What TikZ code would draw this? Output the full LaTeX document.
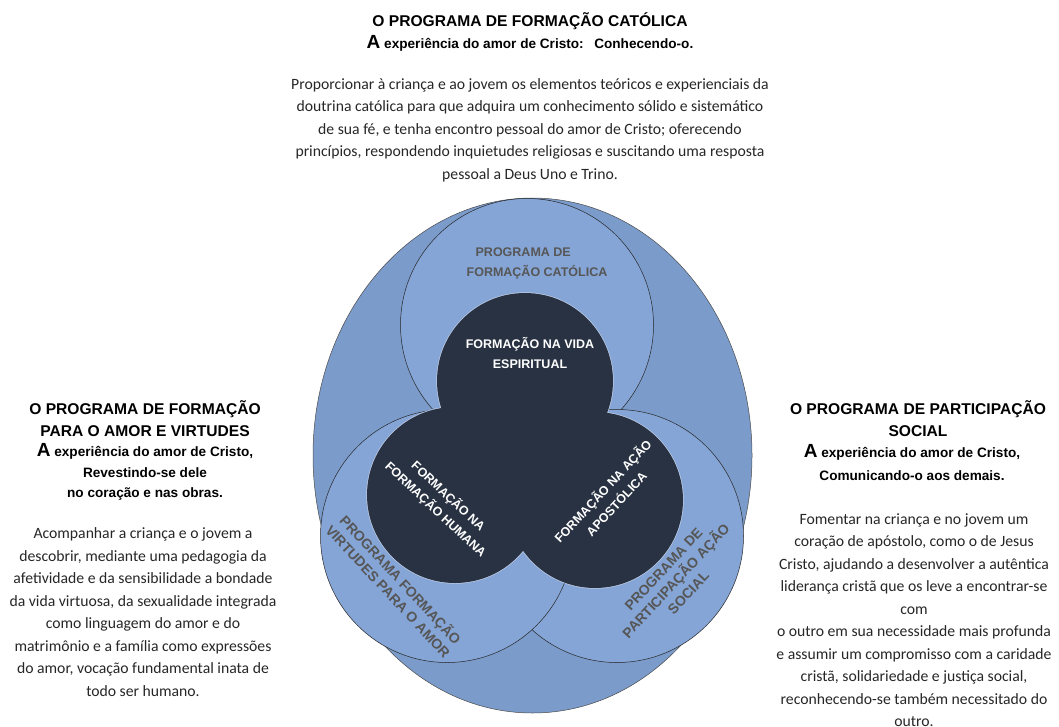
\documentclass[tikz,border=0pt]{standalone}
\usepackage{fontspec}
\setmainfont{Carlito}
\newfontfamily\headfont{Liberation Sans}
\usetikzlibrary{shapes.geometric}

\definecolor{ovalBlue}{HTML}{7B9BCB}
\definecolor{ringBlue}{HTML}{85A5D6}
\definecolor{coreInk}{HTML}{283242}
\definecolor{coreEdge}{HTML}{BFCDE6}
\definecolor{labelGray}{HTML}{565656}
\definecolor{bodyInk}{HTML}{262626}

% big initial of the mottos
\newcommand{\bigA}{{\fontsize{19}{19}\selectfont A}}

\tikzset{
    every node/.style={inner sep=0pt},
    heading/.style={font=\headfont\bfseries\fontsize{15.6}{22}\selectfont, align=center, text=black},
    motto/.style={font=\headfont\bfseries\fontsize{13.6}{20.5}\selectfont, align=center, text=black},
    body/.style={font=\fontsize{15.7}{22.5}\selectfont, align=center, text=bodyInk},
    oval/.style={ellipse, draw=black!70, line width=0.5pt, fill=ovalBlue, minimum width=439pt, minimum height=515pt},
    ring/.style={circle, draw=black!85, line width=0.5pt, fill=ringBlue, minimum size=253pt},
    coreedge/.style={circle, draw=coreEdge, line width=1.4pt, minimum size=176pt},
    core/.style={circle, fill=coreInk, minimum size=176pt},
    ringlabel/.style={font=\headfont\bfseries\fontsize{14}{17}\selectfont, align=center, text=labelGray},
    corelabel/.style={font=\headfont\bfseries\fontsize{12.5}{18.5}\selectfont, align=center, text=white}
}

\begin{document}
\begin{tikzpicture}[x=1pt, y=-1pt]
\useasboundingbox (0,0) rectangle (1059,726);

% outer oval and the three programme circles
\node[oval] (oval) at (532.5,455.5) {};
\node[ring] (catolica) at (527,325) {};
\node[ring] (social) at (617,536) {};
\node[ring] (virtudes) at (447,536) {};

% dark core of the three formations
\node[coreedge] at (525,381) {};
\node[coreedge] at (455,495) {};
\node[coreedge] at (595,500) {};
\node[core] (espiritual) at (525,381) {};
\node[core] (humana) at (455,495) {};
\node[core] (apostolica) at (595,500) {};

% labels inside the circles
\node[ringlabel, font=\headfont\bfseries\fontsize{12.5}{20}\selectfont, align=left] (lblcat) at (537,263) {\hspace*{9pt}PROGRAMA DE\\FORMAÇÃO CATÓLICA};
\node[ringlabel, rotate=-47] (lblvirt) at (395,585) {PROGRAMA FORMAÇÃO\\VIRTUDES PARA O AMOR};
\node[ringlabel, rotate=47] (lblsoc) at (676,581) {PROGRAMA DE\\PARTICIPAÇÃO AÇÃO\\SOCIAL};
\node[corelabel, font=\headfont\bfseries\fontsize{12.5}{20}\selectfont] (lblesp) at (530,353) {FORMAÇÃO NA VIDA\\ESPIRITUAL};
\node[corelabel, rotate=-43] (lblhum) at (442,503) {FORMAÇÃO NA\\FORMAÇÃO HUMANA};
\node[corelabel, rotate=47] (lblapo) at (609,497) {FORMAÇÃO NA AÇÃO\\APOSTÓLICA};

% top block
\node[heading] (titlecat) at (530,21) {O PROGRAMA DE FORMAÇÃO CATÓLICA};
\node[motto] (mottocat) at (530,43) {\bigA\ experiência do amor de Cristo:\enspace\ Conhecendo-o.};
\node[body] (textcat) at (530,130) {Proporcionar à criança e ao jovem os elementos teóricos e experienciais da\\
doutrina católica para que adquira um conhecimento sólido e sistemático\\
de sua fé, e tenha encontro pessoal do amor de Cristo; oferecendo\\
princípios, respondendo inquietudes religiosas e suscitando uma resposta\\
pessoal a Deus Uno e Trino.};

% left block
\node[heading] (titlevirt) at (145,419) {O PROGRAMA DE FORMAÇÃO\\PARA O AMOR E VIRTUDES};
\node[motto] (mottovirt) at (145,472) {\bigA\ experiência do amor de Cristo,\\Revestindo-se dele\\no coração e nas obras.};
\node[body] (textvirt) at (143,612) {Acompanhar a criança e o jovem a\\
descobrir, mediante uma pedagogia da\\
afetividade e da sensibilidade a bondade\\
da vida virtuosa, da sexualidade integrada\\
como linguagem do amor e do\\
matrimônio e a família como expressões\\
do amor, vocação fundamental inata de\\
todo ser humano.};

% right block
\node[heading] (titlesoc) at (918,419) {O PROGRAMA DE PARTICIPAÇÃO\\SOCIAL};
\node[motto, font=\headfont\bfseries\fontsize{13.6}{23}\selectfont] (mottosoc) at (912,463) {\bigA\ experiência do amor de Cristo,\\Comunicando-o aos demais.};
\node[body] (textsoc) at (914,620) {Fomentar na criança e no jovem um\\
coração de apóstolo, como o de Jesus\\
Cristo, ajudando a desenvolver a autêntica\\
liderança cristã que os leve a encontrar-se\\
com\\
o outro em sua necessidade mais profunda\\
e assumir um compromisso com a caridade\\
cristã, solidariedade e justiça social,\\
reconhecendo-se também necessitado do\\
outro.};
\end{tikzpicture}
\end{document}
